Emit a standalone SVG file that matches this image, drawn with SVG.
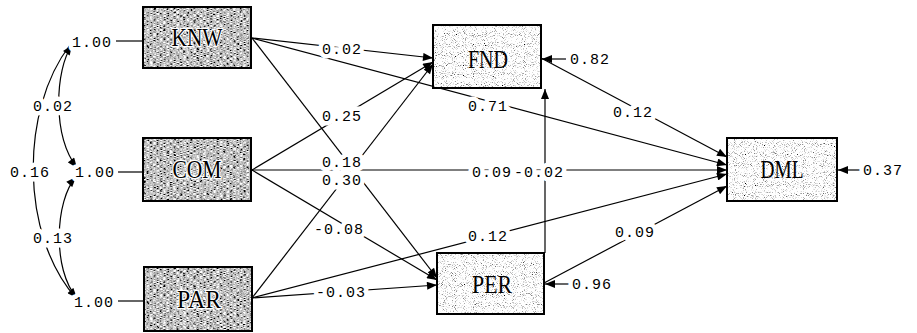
<svg xmlns="http://www.w3.org/2000/svg" width="917" height="333" viewBox="0 0 917 333">
<style>
.lbl{font-family:"Liberation Mono","DejaVu Sans Mono",monospace;font-size:15px;letter-spacing:1px;fill:#000;stroke:#fff;stroke-width:9px;paint-order:stroke fill;stroke-linejoin:round}
.nm{font-family:"Liberation Serif","DejaVu Serif",serif;font-size:25px;text-anchor:middle;fill:#000}
.nd{stroke:#fff;stroke-width:2.5px;paint-order:stroke fill}
.frame{fill:none;stroke:#000;stroke-width:2}
.c{fill:none;stroke:#000;stroke-width:1.2}
</style>
<defs>
<marker id="ah" viewBox="0 0 10 8" refX="10" refY="4" markerWidth="11" markerHeight="8" markerUnits="userSpaceOnUse" orient="auto-start-reverse">
<path d="M0,0 L10,4 L0,8 Z" fill="#000"/>
</marker>
<filter id="texDark" x="0" y="0" width="1" height="1">
<feTurbulence type="fractalNoise" baseFrequency="0.3 1.0" numOctaves="2" seed="4"/>
<feColorMatrix type="matrix" values="2.4 0 0 0 -0.68  2.4 0 0 0 -0.68  2.4 0 0 0 -0.68  0 0 0 0 1"/>
<feComposite in2="SourceGraphic" operator="in"/>
</filter>
<filter id="texLight" x="0" y="0" width="1" height="1">
<feTurbulence type="fractalNoise" baseFrequency="1.1" numOctaves="1" seed="7"/>
<feColorMatrix type="matrix" values="4 0 0 0 -0.85  4 0 0 0 -0.85  4 0 0 0 -0.85  0 0 0 0 1"/>
<feComposite in2="SourceGraphic" operator="in"/>
</filter>
</defs>
<rect x="0" y="0" width="917" height="333" fill="#fff"/>

<g id="connectors">
<line class="c" x1="116" y1="41" x2="143" y2="41"/>
<line class="c" x1="118" y1="172" x2="143" y2="172"/>
<line class="c" x1="118" y1="301" x2="144" y2="301"/>
<path class="c" d="M72,45 C55,70 52,135 77,168" marker-start="url(#ah)" marker-end="url(#ah)"/>
<path class="c" d="M76,177 C55,200 52,270 77,298" marker-start="url(#ah)" marker-end="url(#ah)"/>
<path class="c" d="M70,45 C20,110 20,235 76,298"/>
<line class="c" x1="252" y1="38" x2="433" y2="58" marker-end="url(#ah)"/>
<line class="c" x1="252" y1="38" x2="727" y2="165" marker-end="url(#ah)"/>
<line class="c" x1="252" y1="38" x2="437" y2="278" marker-end="url(#ah)"/>
<line class="c" x1="252" y1="170" x2="433" y2="62" marker-end="url(#ah)"/>
<line class="c" x1="252" y1="170" x2="727" y2="170" marker-end="url(#ah)"/>
<line class="c" x1="252" y1="170" x2="437" y2="280" marker-end="url(#ah)"/>
<line class="c" x1="252" y1="298" x2="433" y2="64" marker-end="url(#ah)"/>
<line class="c" x1="252" y1="298" x2="437" y2="285" marker-end="url(#ah)"/>
<line class="c" x1="252" y1="298" x2="727" y2="174" marker-end="url(#ah)"/>
<line class="c" x1="541" y1="58" x2="727" y2="157" marker-end="url(#ah)"/>
<line class="c" x1="544" y1="283" x2="727" y2="186" marker-end="url(#ah)"/>
<line class="c" x1="545" y1="253" x2="545" y2="89" marker-end="url(#ah)"/>
<line class="c" x1="566" y1="59" x2="542" y2="59" marker-end="url(#ah)"/>
<line class="c" x1="570" y1="284" x2="545" y2="284" marker-end="url(#ah)"/>
<line class="c" x1="860" y1="170" x2="838" y2="170" marker-end="url(#ah)"/>
</g>

<g id="labels">
<text class="lbl" x="72" y="47">1.00</text>
<text class="lbl" x="75" y="177">1.00</text>
<text class="lbl" x="74" y="307">1.00</text>
<text class="lbl" x="33" y="111">0.02</text>
<text class="lbl" x="10" y="177">0.16</text>
<text class="lbl" x="33" y="243">0.13</text>
<text class="lbl" x="322" y="54">0.02</text>
<text class="lbl" x="468" y="111">0.71</text>
<text class="lbl" x="322" y="121">0.25</text>
<text class="lbl" x="322" y="167">0.18</text>
<text class="lbl" x="322" y="185">0.30</text>
<text class="lbl" x="472" y="177">0.09</text>
<text class="lbl" x="514" y="177">-0.02</text>
<text class="lbl" x="314" y="234">-0.08</text>
<text class="lbl" x="468" y="241">0.12</text>
<text class="lbl" x="316" y="297">-0.03</text>
<text class="lbl" x="613" y="117">0.12</text>
<text class="lbl" x="570" y="64">0.82</text>
<text class="lbl" x="572" y="289">0.96</text>
<text class="lbl" x="863" y="175">0.37</text>
<text class="lbl" x="615" y="237">0.09</text>
</g>

<g id="KNW">
<rect x="143" y="7" width="108" height="61" fill="#999" filter="url(#texDark)"/>
<rect class="frame" x="143" y="7" width="108" height="61"/>
<text class="nm nd" x="197" y="46" textLength="51" lengthAdjust="spacingAndGlyphs">KNW</text>
</g>
<g id="COM">
<rect x="143" y="138" width="108" height="63" fill="#999" filter="url(#texDark)"/>
<rect class="frame" x="143" y="138" width="108" height="63"/>
<text class="nm nd" x="197" y="178" textLength="49" lengthAdjust="spacingAndGlyphs">COM</text>
</g>
<g id="PAR">
<rect x="144" y="267" width="108" height="64" fill="#999" filter="url(#texDark)"/>
<rect class="frame" x="144" y="267" width="108" height="64"/>
<text class="nm nd" x="199" y="308" textLength="44" lengthAdjust="spacingAndGlyphs">PAR</text>
</g>
<g id="FND">
<rect x="433" y="25" width="108" height="63" fill="#eee" filter="url(#texLight)"/>
<rect class="frame" x="433" y="25" width="108" height="63"/>
<text class="nm" x="488" y="68" textLength="40" lengthAdjust="spacingAndGlyphs">FND</text>
</g>
<g id="PER">
<rect x="437" y="253" width="107" height="61" fill="#eee" filter="url(#texLight)"/>
<rect class="frame" x="437" y="253" width="107" height="61"/>
<text class="nm" x="492" y="293" textLength="40" lengthAdjust="spacingAndGlyphs">PER</text>
</g>
<g id="DML">
<rect x="727" y="138" width="110" height="63" fill="#eee" filter="url(#texLight)"/>
<rect class="frame" x="727" y="138" width="110" height="63"/>
<text class="nm" x="782" y="178" textLength="43" lengthAdjust="spacingAndGlyphs">DML</text>
</g>
</svg>
